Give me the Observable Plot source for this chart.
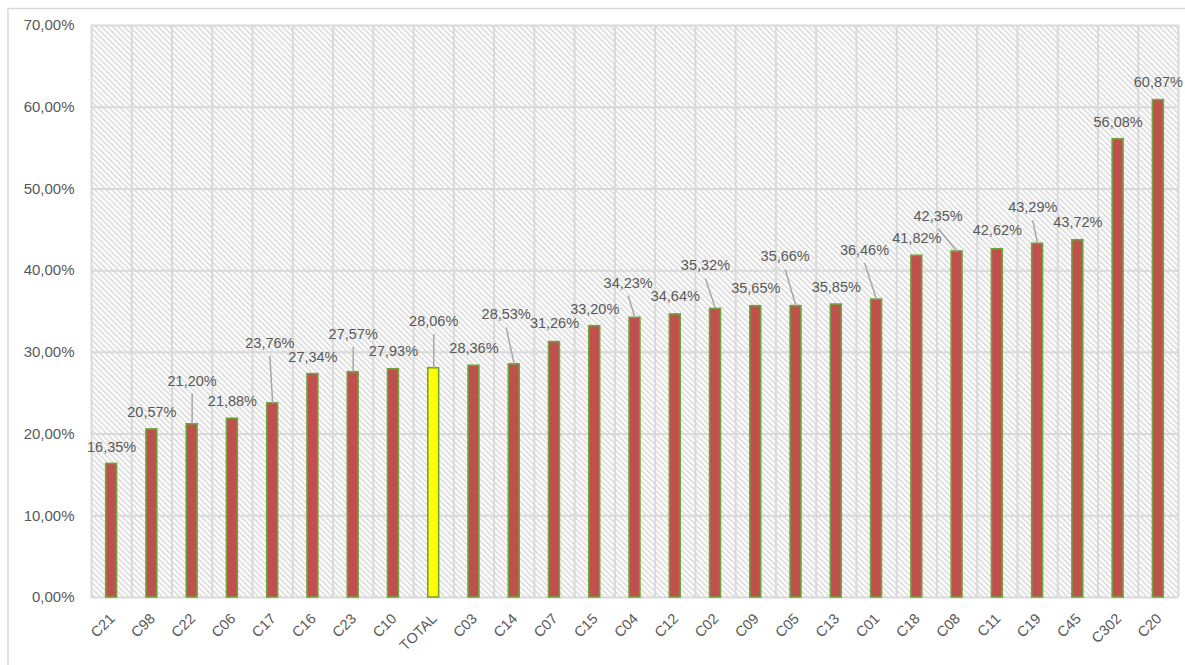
<!DOCTYPE html>
<html>
<head>
<meta charset="utf-8">
<script src="https://cdn.jsdelivr.net/npm/d3@7"></script>
<script src="https://cdn.jsdelivr.net/npm/@observablehq/plot@0.6"></script>
<style>
  html, body { margin: 0; padding: 0; background: #fff; }
  #chart { position: relative; width: 1185px; height: 665px; overflow: hidden; }
</style>
</head>
<body>
<div id="chart"></div>
<script>
// ---- data ----
const categories = ["C21","C98","C22","C06","C17","C16","C23","C10","TOTAL","C03","C14","C07","C15","C04","C12","C02","C09","C05","C13","C01","C18","C08","C11","C19","C45","C302","C20"];
const values = [16.35,20.57,21.20,21.88,23.76,27.34,27.57,27.93,28.06,28.36,28.53,31.26,33.20,34.23,34.64,35.32,35.65,35.66,35.85,36.46,41.82,42.35,42.62,43.29,43.72,56.08,60.87];
// where each data label sits (label centre, in % units) and its horizontal shift (in category units)
const labelAt = [18.4,22.7,26.5,24.0,31.1,29.4,32.2,30.1,33.8,30.5,34.6,33.5,35.3,38.5,36.8,40.6,37.8,41.7,37.9,42.5,44.0,46.7,44.9,47.7,45.9,58.2,63.0];
const labelShift = [0,0,0,0,-0.07,0,0,0,0,0,-0.2,0,0,-0.17,0,-0.25,0,-0.27,0,-0.3,0,-0.47,0,-0.12,0,0,0];
const yTicks = [0,10,20,30,40,50,60,70];

const rows = categories.map((c, i) => ({
  i, cat: c, value: values[i], labelAt: labelAt[i], shift: labelShift[i], total: c === "TOTAL"
}));
const fmt = v => v.toFixed(2).replace(".", ",") + "%";

const plot = Plot.plot({
  width: 1185,
  height: 665,
  marginLeft: 91,
  marginRight: 7,
  marginTop: 25,
  marginBottom: 68,
  style: { fontFamily: "'Liberation Sans', Arial, sans-serif", background: "transparent", color: "#595959", overflow: "hidden" },
  x: { domain: [-0.5, categories.length - 0.5], axis: null },
  y: { domain: [0, 70], axis: null },
  marks: [
    Plot.frame({ fill: "url(#hatch)", stroke: "none" }),
    Plot.ruleY(yTicks, { stroke: "#d9d9d9", strokeWidth: 2 }),
    Plot.ruleX(d3.range(categories.length + 1).map(k => k - 0.5), { stroke: "#d9d9d9", strokeWidth: 2 }),
    Plot.axisY(yTicks, { tickSize: 0, tickPadding: 17, tickFormat: fmt, fontSize: 15, label: null }),
    // category tick labels, rotated -45°
    Plot.text(rows, {
      x: "i", frameAnchor: "bottom", text: "cat", rotate: -45, textAnchor: "end",
      dx: 4, dy: 22, fontSize: 14.5, fill: "#595959"
    }),
    Plot.rect(rows, {
      x1: d => d.i - 0.135, x2: d => d.i + 0.135, y1: d => 0, y2: "value",
      fill: d => d.total ? "#ffff00" : "#c0504d", stroke: "#71a23b", strokeWidth: 1.6
    }),
    Plot.link(rows.filter(d => d.labelAt - d.value > 3), {
      x1: d => d.i + d.shift, y1: d => d.labelAt - 1.55, x2: "i", y2: "value",
      stroke: "#a6a6a6", strokeWidth: 1.5
    }),
    Plot.text(rows, {
      x: d => d.i + d.shift, y: "labelAt", text: d => fmt(d.value),
      fontSize: 14.5, fill: "#595959", lineAnchor: "middle"
    })
  ]
});

const svg = d3.select(plot);
const defs = svg.insert("defs", ":first-child");
const pat = defs.append("pattern")
  .attr("id", "hatch").attr("patternUnits", "userSpaceOnUse")
  .attr("width", 4).attr("height", 4).attr("patternTransform", "rotate(-45)");
pat.append("rect").attr("width", 4).attr("height", 4).attr("fill", "#ffffff");
pat.append("rect").attr("width", 1.7).attr("height", 4).attr("fill", "#dcdcdc");
svg.append("rect")
  .attr("x", 8).attr("y", 8.5).attr("width", 1200).attr("height", 700)
  .attr("fill", "none").attr("stroke", "#d9d9d9").attr("stroke-width", 1.5);

document.getElementById("chart").appendChild(plot);
</script>
</body>
</html>
